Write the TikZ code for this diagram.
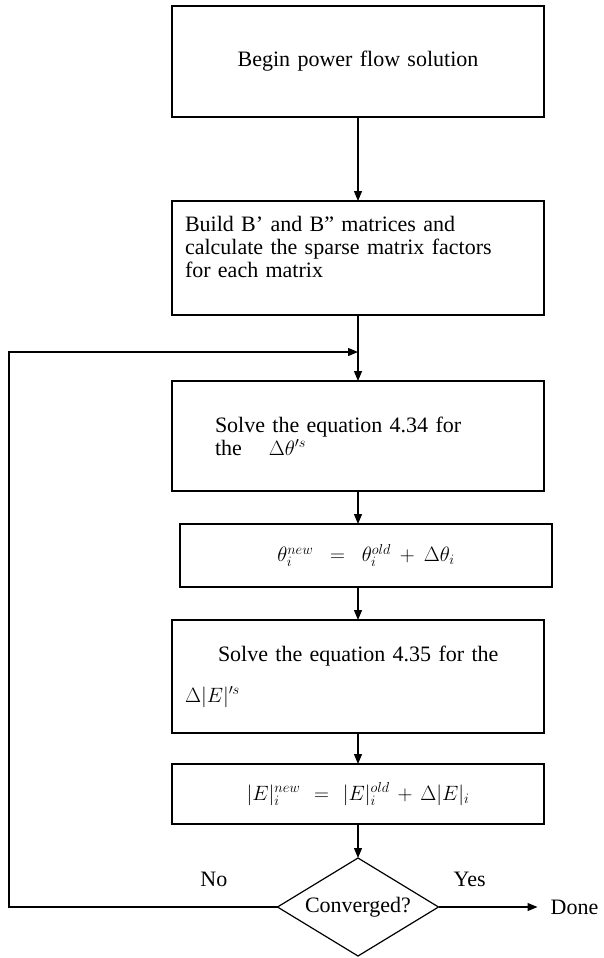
\documentclass[tikz,border=0pt]{standalone}
\usepackage{fontspec}
\setmainfont{Liberation Serif}
\usetikzlibrary{positioning,shapes.geometric,arrows.meta}
\newcommand{\flowfont}{\fontsize{22}{23}\selectfont}

\begin{document}
\begin{tikzpicture}[
    node distance=33pt,
    stage/.style={draw, line width=1.2pt, minimum width=372pt,
                  text width=346pt, inner xsep=13pt, inner ysep=0pt,
                  outer sep=0pt, align=left, font=\flowfont},
    eqbox/.style={stage, align=center},
    test/.style={diamond, draw, line width=1.2pt, aspect=1.64,
                 minimum width=161pt, minimum height=98pt, inner sep=0pt,
                 outer sep=0pt, font=\flowfont},
    tag/.style={inner sep=0pt, font=\flowfont},
    flow/.style={-{Triangle[length=10pt,width=8pt]}, line width=1.2pt}
  ]
  \useasboundingbox (0,0) rectangle (603pt,-958pt);

  \node[eqbox, minimum height=111pt] (begin) at (358pt,-61.5pt) {Begin power flow solution};
  \node[stage, minimum height=114pt, below=84pt of begin] (build)
    {Build B’ and B” matrices and\\calculate the sparse matrix factors\\for each matrix\\\mbox{}};
  \node[stage, minimum height=110pt, below=66pt of build] (solvetheta)
    {\hspace*{30pt}Solve the equation 4.34 for\\\hspace*{30pt}the\hspace{27pt}$\Delta\theta^{\prime s}$};
  \node[eqbox, minimum height=63pt, below=33pt of solvetheta, xshift=8pt] (thetaupd)
    {$\theta_i^{new} = \theta_i^{old} + \Delta\theta_i$};
  \node[stage, minimum height=113pt, below=33pt of thetaupd, xshift=-8pt] (solveE)
    {\hspace*{33pt}Solve the equation 4.35 for the\\[18pt]$\Delta|E|^{\prime s}$};
  \node[eqbox, minimum height=60pt, below=31pt of solveE] (Eupd)
    {$|E|_i^{new} = |E|_i^{old} + \Delta|E|_i$};
  \node[test, below=34pt of Eupd] (conv) {Converged?};
  \node[tag, right=112pt of conv] (done) {Done};
  \node[tag, above right=20pt and 15pt of conv.east] (yes) {Yes};
  \node[tag, above left=20pt and 50pt of conv.west] (no) {No};

  \coordinate[below=37pt of build] (join);
  \coordinate (rail) at (9pt,0pt);

  \draw[flow] (begin) -- (build);
  \draw[flow] (build) -- (solvetheta);
  \draw[flow] (solvetheta) -- (solvetheta.south |- thetaupd.north);
  \draw[flow] (thetaupd.south -| solvetheta) -- (solveE);
  \draw[flow] (solveE) -- (Eupd);
  \draw[flow] (Eupd) -- (conv);
  \draw[flow, shorten >=13pt] (conv.east) -- (done.west);
  \draw[flow] (conv.west) -- (conv.west -| rail) |- (join);
\end{tikzpicture}
\end{document}
